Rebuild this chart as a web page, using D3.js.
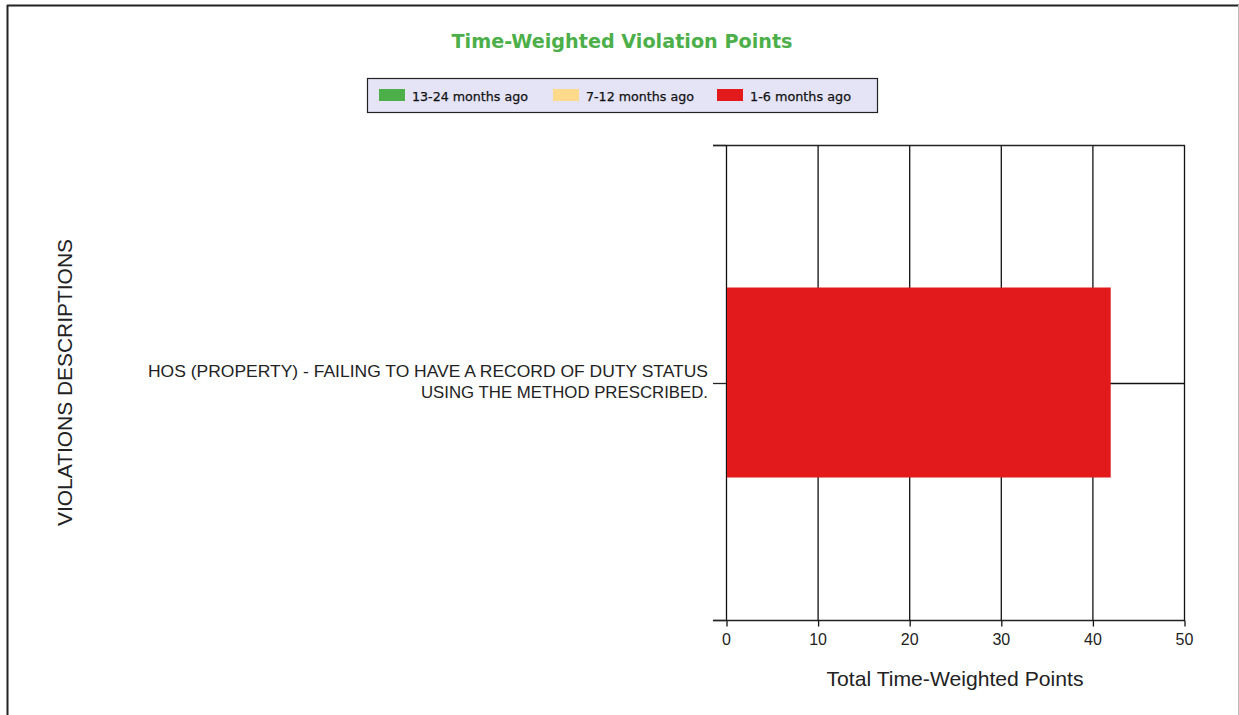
<!DOCTYPE html>
<html><head><meta charset="utf-8">
<script src="https://cdn.jsdelivr.net/npm/d3@7"></script>
<style>html,body{margin:0;padding:0;background:#fff;}svg{display:block;}</style>
</head><body>
<svg id="chart" width="1239" height="715"></svg>
<script>
const chartTitle = "Time-Weighted Violation Points";
const categories = ["HOS (PROPERTY) - FAILING TO HAVE A RECORD OF DUTY STATUS|USING THE METHOD PRESCRIBED."];
const seriesNames = ["13-24 months ago", "7-12 months ago", "1-6 months ago"];
const seriesColors = ["#4caf4a", "#fdd98c", "#e31a1c"];
const months13to24 = [0];
const months7to12 = [0];
const months1to6 = [42];
const xTicks = [0, 10, 20, 30, 40, 50];
const xTitle = "Total Time-Weighted Points";
const yTitle = "VIOLATIONS DESCRIPTIONS";

const svg = d3.select("#chart");
// frame
svg.append("line").attr("x1",7).attr("x2",1239).attr("y1",5.5).attr("y2",5.5).attr("stroke","#222").attr("stroke-width",2);
svg.append("line").attr("x1",7.5).attr("x2",7.5).attr("y1",5).attr("y2",715).attr("stroke","#222").attr("stroke-width",2);
svg.append("line").attr("x1",1238.5).attr("x2",1238.5).attr("y1",5).attr("y2",715).attr("stroke","#bbb").attr("stroke-width",1);

svg.append("text").attr("x",622).attr("y",48).attr("text-anchor","middle")
  .attr("font-family","'DejaVu Sans', Verdana, sans-serif").attr("font-weight","bold")
  .attr("font-size",20).attr("fill","#4caf4a").attr("textLength",341).attr("lengthAdjust","spacingAndGlyphs").text(chartTitle);

// legend
const lg = svg.append("g");
lg.append("rect").attr("x",367.5).attr("y",78.5).attr("width",510).attr("height",34).attr("fill","#e4e4f6").attr("stroke","#222").attr("stroke-width",1.2);
const legX = [379, 553, 717];
const legW = [116, 108, 101];
seriesNames.forEach((n,i)=>{
  lg.append("rect").attr("x",legX[i]).attr("y",89).attr("width",26).attr("height",12).attr("fill",seriesColors[i]);
  lg.append("text").attr("x",legX[i]+33).attr("y",100.5).attr("font-family","'DejaVu Sans', Verdana, sans-serif")
    .attr("font-size",13).attr("fill","#111").attr("stroke","#111").attr("stroke-width",0.25)
    .attr("textLength",legW[i]).attr("lengthAdjust","spacingAndGlyphs").text(n);
});

const x0 = 726, x1 = 1184, yTop = 145, yBot = 620;
const x = d3.scaleLinear().domain([0,50]).range([x0,x1]);
const y = d3.scaleBand().domain(categories).range([yTop,yBot]).paddingInner(0.6).paddingOuter(0.3);

// gridlines
svg.append("g").selectAll("line").data(xTicks.slice(1)).join("line")
  .attr("x1",d=>x(d)+0.5).attr("x2",d=>x(d)+0.5).attr("y1",yTop).attr("y2",yBot)
  .attr("stroke","#111").attr("stroke-width",1.3);

const rows = categories.map((c,i)=>({cat:c, a:months13to24[i], b:months7to12[i], c:months1to6[i]}));
const stack = d3.stack().keys(["a","b","c"])(rows);

// frame top and left
svg.append("line").attr("x1",713).attr("x2",x1+1).attr("y1",yTop+0.5).attr("y2",yTop+0.5).attr("stroke","#222").attr("stroke-width",1.3);
svg.append("line").attr("x1",x0+0.5).attr("x2",x0+0.5).attr("y1",yTop).attr("y2",yBot).attr("stroke","#111").attr("stroke-width",1.3);

// bottom axis
const xAxis = svg.append("g").attr("transform",`translate(0,${yBot+0.5})`)
  .call(d3.axisBottom(x).tickValues(xTicks).tickSize(6).tickPadding(7).tickSizeOuter(0));
xAxis.select(".domain").attr("d",`M713,0H${x1+1}`).attr("stroke","#222").attr("stroke-width",1.3);
xAxis.selectAll(".tick line").attr("stroke","#111").attr("stroke-width",1.3).attr("transform","translate(0.5,0)");
xAxis.selectAll("text").attr("font-family","Arial, 'Liberation Sans', sans-serif").attr("font-size",16).attr("fill","#222");

// left axis (category ticks)
const yMid = (yTop+yBot)/2;
[yTop, yMid, yBot].forEach(v=>{
  svg.append("line").attr("x1",713).attr("x2",x0).attr("y1",Math.round(v)+0.5).attr("y2",Math.round(v)+0.5).attr("stroke","#222").attr("stroke-width",1.3);
});
svg.append("line").attr("x1",x0).attr("x2",x1).attr("y1",Math.round(yMid)+0.5).attr("y2",Math.round(yMid)+0.5).attr("stroke","#111").attr("stroke-width",1.3);
// bars
svg.append("g").selectAll("g").data(stack).join("g").attr("fill",(d,i)=>seriesColors[i])
  .selectAll("rect").data(d=>d).join("rect")
  .attr("x",d=>x(d[0])+1).attr("width",d=>Math.max(0,x(d[1])-x(d[0])-1))
  .attr("y",d=>y(d.data.cat)).attr("height",y.bandwidth());

const lineW = [560, 287];
categories.forEach(c=>{
  const lines = c.split("|");
  const t = svg.append("text").attr("text-anchor","end").attr("font-family","Arial, 'Liberation Sans', sans-serif")
    .attr("font-size",17).attr("fill","#222");
  lines.forEach((l,i)=>t.append("tspan").attr("x",708).attr("y",y(c)+y.bandwidth()/2 - 6 + i*21)
    .attr("textLength",lineW[i]).attr("lengthAdjust","spacingAndGlyphs").text(l));
});

svg.append("text").attr("x",955).attr("y",686).attr("text-anchor","middle").attr("font-family","Arial, 'Liberation Sans', sans-serif")
  .attr("font-size",21).attr("fill","#222").attr("textLength",257).attr("lengthAdjust","spacingAndGlyphs").text(xTitle);
svg.append("text").attr("transform",`translate(72,${yMid}) rotate(-90)`).attr("text-anchor","middle")
  .attr("font-family","Arial, 'Liberation Sans', sans-serif").attr("font-size",21).attr("fill","#222")
  .attr("textLength",287).attr("lengthAdjust","spacingAndGlyphs").text(yTitle);
</script>
</body></html>
